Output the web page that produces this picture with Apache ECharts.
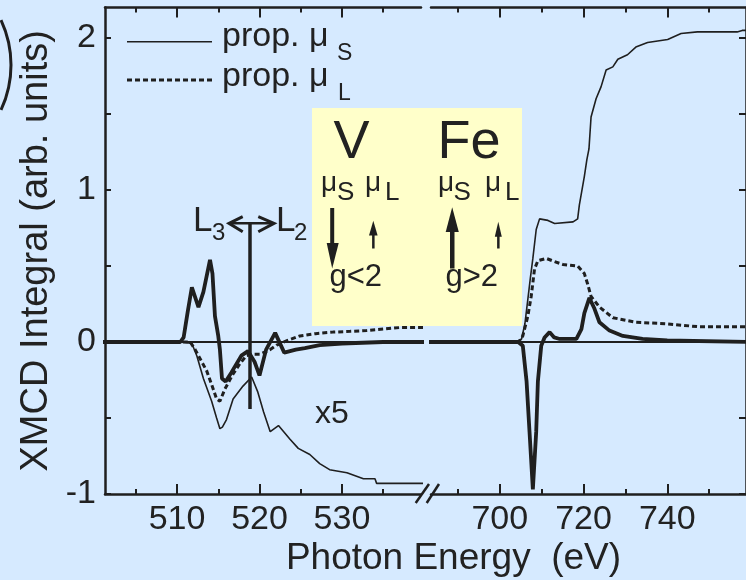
<!DOCTYPE html>
<html><head><meta charset="utf-8">
<script src="https://cdn.jsdelivr.net/npm/echarts@6/dist/echarts.min.js"></script>
<style>html,body{margin:0;padding:0;background:#d6eaff}#c{width:746px;height:580px}</style>
</head><body><div id="c"></div>
<script>
// ---------- DATA ----------
// V L-edge (left panel), energies in eV
const vSpinE = [501, 505, 509, 510.5, 511.2, 511.8, 512.4, 513.2, 514.2, 514.8, 515.2, 515.5, 516.0, 516.8, 518.0, 519.05, 519.8, 520.5, 521.3, 522.3, 523.7, 524.7, 526.1, 527.3, 528.5, 530.6, 532.6, 534.0, 534.2, 537, 540];
const vSpin  = [0, 0, 0, 0, -0.005, -0.01, -0.09, -0.24, -0.39, -0.5, -0.57, -0.56, -0.51, -0.375, -0.29, -0.23, -0.33, -0.46, -0.59, -0.55, -0.64, -0.70, -0.74, -0.80, -0.84, -0.86, -0.90, -0.90, -0.93, -0.93, -0.93];
const vOrbE  = [501, 505, 509, 511, 511.6, 512.2, 512.8, 513.6, 514.2, 514.8, 515.2, 515.8, 516.8, 517.6, 518.4, 519.2, 520.1, 521.3, 522.1, 523.4, 524.9, 526.8, 528.9, 531, 533.0, 535, 537.0, 540];
const vOrb   = [0, 0, 0, 0, 0, -0.05, -0.11, -0.19, -0.28, -0.375, -0.39, -0.31, -0.21, -0.145, -0.09, -0.08, -0.08, -0.05, -0.02, 0.01, 0.04, 0.055, 0.065, 0.07, 0.075, 0.085, 0.095, 0.095];
const vXmcdE = [501, 505, 509, 510.4, 510.8, 511.3, 511.8, 512.6, 513.2, 514.0, 514.3, 514.6, 515.0, 515.2, 515.45, 515.9, 516.6, 517.8, 518.6, 519.4, 520.0, 520.8, 521.9, 523.0, 524.4, 525.5, 527.3, 530, 535, 540];
const vXmcd  = [0, 0, 0, 0, 0.03, 0.2, 0.36, 0.23, 0.33, 0.54, 0.45, 0.17, 0.04, -0.05, -0.24, -0.26, -0.2, -0.09, -0.06, -0.13, -0.22, -0.05, 0.06, -0.07, -0.05, -0.04, -0.02, -0.01, 0, 0];
// Fe L-edge (right panel)
const feSpinE = [683, 690, 700, 704, 705.2, 706.0, 706.7, 707.3, 707.9, 708.7, 709.5, 711.5, 713.1, 717.5, 718.6, 719.0, 719.7, 720.2, 720.8, 721.3, 721.8, 723.0, 724.2, 725.4, 727.0, 728.2, 730.5, 732.5, 735.3, 740.1, 743.3, 747.2, 756.7, 757.9, 760];
const feSpin  = [0, 0, 0, 0, 0.02, 0.12, 0.28, 0.42, 0.55, 0.74, 0.81, 0.80, 0.78, 0.79, 0.81, 0.9, 1.01, 1.09, 1.2, 1.27, 1.48, 1.60, 1.68, 1.79, 1.81, 1.86, 1.89, 1.94, 1.97, 1.99, 2.03, 2.04, 2.04, 2.05, 2.05];
const feOrbE  = [683, 690, 700, 704.5, 705.5, 706.7, 707.5, 707.9, 708.3, 709.1, 711.1, 713, 715.1, 718.6, 720.2, 721.0, 721.8, 723.8, 727.0, 732.5, 739.7, 747.6, 760];
const feOrb   = [0, 0, 0, 0, 0.04, 0.17, 0.30, 0.39, 0.48, 0.535, 0.55, 0.53, 0.51, 0.50, 0.45, 0.38, 0.30, 0.23, 0.16, 0.13, 0.12, 0.10, 0.10];
const feXmcdE = [683, 690, 700, 704.4, 705.5, 706.4, 707.1, 707.9, 708.7, 709.1, 709.9, 710.7, 711.9, 713, 714.3, 718.3, 719.5, 720.2, 721.4, 722.6, 723.8, 726.2, 729.4, 734.1, 740, 760];
const feXmcd  = [0, 0, 0, 0, -0.025, -0.26, -0.59, -0.97, -0.59, -0.26, -0.025, 0.03, 0.065, 0.03, 0.02, 0.02, 0.085, 0.19, 0.29, 0.22, 0.13, 0.075, 0.04, 0.02, 0.01, 0];
// Ticks
const vMajor = [510, 520, 530];
const vMinor = [505, 515, 525, 535];
const feMajor = [700, 720, 740];
const feMinor = [690, 710, 730, 750];
const yLabels = [-1, 0, 1, 2];
const yTicks = [-1, -0.5, 0, 0.5, 1, 1.5, 2];
const seriesNames = ['prop. μS', 'prop. μL'];

// ---------- CHART ----------
const FONT = '"Liberation Sans", Arial, Helvetica, sans-serif';
const INK = '#1f1f1f';
const TXT = '#222222';
const zip = (a, b) => a.map((x, i) => [x, b[i]]);

const V_MIN = 501.27, V_MAX = 539.58, FE_MIN = 683.57, FE_MAX = 758.81;

function xAx(grid, min, max, pos, ticks, len, showLine, labels) {
  return {
    type: 'value', gridIndex: grid, position: pos, min: min, max: max,
    axisLine: { show: showLine, onZero: false, lineStyle: { color: INK, width: 2.5 } },
    axisTick: { show: true, inside: true, length: len, customValues: ticks, lineStyle: { color: INK, width: 2 } },
    axisLabel: { show: !!labels, customValues: labels || [], fontSize: 34, color: TXT, fontFamily: FONT, margin: 9 },
    splitLine: { show: false }
  };
}

const xAxes = [
  xAx(0, V_MIN, V_MAX, 'bottom', vMajor, 10, true, vMajor),
  xAx(0, V_MIN, V_MAX, 'top', vMajor, 10, true, null),
  xAx(0, V_MIN, V_MAX, 'bottom', vMinor, 5, false, null),
  xAx(0, V_MIN, V_MAX, 'top', vMinor, 5, false, null),
  xAx(1, FE_MIN, FE_MAX, 'bottom', feMajor, 10, true, feMajor),
  xAx(1, FE_MIN, FE_MAX, 'top', feMajor, 10, true, null),
  xAx(1, FE_MIN, FE_MAX, 'bottom', feMinor, 5, false, null),
  xAx(1, FE_MIN, FE_MAX, 'top', feMinor, 5, false, null)
];

const yAxes = [
  {
    type: 'value', gridIndex: 0, position: 'left', min: -1, max: 2.2,
    name: 'XMCD Integral (arb. units)', nameLocation: 'middle', nameRotate: 90, nameGap: 49,
    nameTextStyle: { fontSize: 38, color: TXT, fontFamily: FONT },
    axisLine: { show: true, onZero: false, lineStyle: { color: INK, width: 2.5 } },
    axisTick: { show: true, inside: true, length: 6, customValues: yTicks, lineStyle: { color: INK, width: 2 } },
    axisLabel: { customValues: yLabels, fontSize: 34, color: TXT, fontFamily: FONT, margin: 9 },
    splitLine: { show: false }
  },
  {
    type: 'value', gridIndex: 1, position: 'right', min: -1, max: 2.2,
    axisLine: { show: true, onZero: false, lineStyle: { color: INK, width: 2.5 } },
    axisTick: { show: true, inside: true, length: 7, customValues: yTicks, lineStyle: { color: INK, width: 2 } },
    axisLabel: { show: false },
    splitLine: { show: false }
  }
];

const zeroLine = {
  silent: true, symbol: ['none', 'none'], label: { show: false },
  lineStyle: { color: INK, width: 2, type: 'solid' }, data: [{ yAxis: 0 }]
};

function line(name, xi, yi, data, width, type, mark) {
  const s = {
    type: 'line', name: name, xAxisIndex: xi, yAxisIndex: yi, data: data,
    symbol: 'none', smooth: false, clip: true, z: 3,
    lineStyle: { color: INK, width: width, type: type }
  };
  if (mark) s.markLine = zeroLine;
  return s;
}

const series = [
  line(seriesNames[0], 0, 0, zip(vSpinE, vSpin), 1.6, 'solid', true),
  line(seriesNames[1], 0, 0, zip(vOrbE, vOrb), 3, [5, 3], false),
  line('', 0, 0, zip(vXmcdE, vXmcd), 3.8, 'solid', false),
  line(seriesNames[0], 4, 1, zip(feSpinE, feSpin), 1.6, 'solid', true),
  line(seriesNames[1], 4, 1, zip(feOrbE, feOrb), 3, [5, 3], false),
  line('', 4, 1, zip(feXmcdE, feXmcd), 3.8, 'solid', false)
];

function txt(text, x, y, size, align, extra) {
  return Object.assign({
    type: 'text', z: 20, x: x, y: y,
    style: { text: text, fontSize: size, fontFamily: FONT, fill: TXT, align: align || 'left', verticalAlign: 'middle' }
  }, extra || {});
}
function seg(x1, y1, x2, y2, w, dash) {
  return { type: 'line', z: 20, shape: { x1: x1, y1: y1, x2: x2, y2: y2 }, style: { stroke: INK, lineWidth: w, lineDash: dash || null } };
}
function poly(points) {
  return { type: 'polygon', z: 20, shape: { points: points }, style: { fill: INK } };
}
function poln(points, w) {
  return { type: 'polyline', z: 20, shape: { points: points }, style: { stroke: INK, lineWidth: w, fill: null } };
}
function rect(x, y, w, h) {
  return { type: 'rect', z: 20, shape: { x: x, y: y, width: w, height: h }, style: { fill: INK } };
}

const graphics = [
  // yellow inset box
  { type: 'rect', z: 0, shape: { x: 312, y: 108, width: 210, height: 218 }, style: { fill: '#ffffca' } },
  // panel label fragment
  { type: 'arc', z: 20, shape: { cx: -95.25, cy: 65, r: 106.25, startAngle: -0.437, endAngle: 0.437 }, style: { stroke: INK, lineWidth: 3, fill: null } },
  // legend
  seg(127, 41.7, 212, 41.7, 1.6),
  seg(127, 80, 212, 80, 3, [5, 3]),
  txt('prop. μ', 222, 36.2, 34),
  txt('S', 337, 53.7, 23),
  txt('prop. μ', 222, 76.2, 34),
  txt('L', 338, 93.7, 23),
  // inset texts
  txt('V', 351.5, 143.3, 54, 'center'),
  txt('Fe', 469, 143.3, 54, 'center'),
  txt('μ', 321, 183.5, 28),
  txt('S', 337, 192.7, 26),
  txt('μ', 365, 183.5, 28),
  txt('L', 385, 192.7, 26),
  txt('μ', 438, 183.5, 28),
  txt('S', 453.5, 192.7, 26),
  txt('μ', 485, 183.5, 28),
  txt('L', 505, 192.7, 26),
  txt('g<2', 355.8, 277.6, 31, 'center'),
  txt('g>2', 471.7, 277.6, 31, 'center'),
  // arrows
  rect(330.2, 208, 4, 37), poly([[326.7, 243], [338.7, 243], [332.2, 268.5]]),
  rect(372.1, 233, 2.5, 15.5), poly([[369, 235.5], [377.6, 235.5], [373.3, 220.7]]),
  rect(450, 230, 4.5, 38.5), poly([[445.7, 232], [458.8, 232], [452.2, 207.3]]),
  rect(497.1, 234, 2.5, 14.5), poly([[494.8, 236.7], [501.8, 236.7], [498.3, 221.7]]),
  // L3 <-> L2 marker
  seg(250, 223, 250, 409, 3.5),
  seg(230, 223.3, 273, 223.3, 2.5),
  poln([[242.7, 216.7], [229, 223.3], [242.7, 231.7]], 3),
  poln([[258.3, 216.7], [274, 223.3], [258.3, 231.7]], 3),
  txt('L', 193, 220.9, 35),
  txt('3', 212, 233.7, 24),
  txt('L', 276, 220.9, 35),
  txt('2', 294, 233.7, 24),
  // x5 label
  txt('x5', 315, 413.9, 32),
  // axis break marks
  seg(415.7, 503, 429, 484, 2.5),
  seg(426.7, 503, 439, 484, 2.5),
  // x axis title
  txt('Photon Energy  (eV)', 453.5, 559, 37, 'center')
];

const chart = echarts.init(document.getElementById('c'), null, { renderer: 'canvas' });
chart.setOption({
  animation: false,
  backgroundColor: '#d6eaff',
  textStyle: { fontFamily: FONT },
  grid: [
    { left: 105, top: 7.6, width: 316, height: 486.4, containLabel: false },
    { left: 431, top: 7.6, width: 316, height: 486.4, containLabel: false }
  ],
  xAxis: xAxes,
  yAxis: yAxes,
  series: series,
  graphic: graphics
});
</script></body></html>
